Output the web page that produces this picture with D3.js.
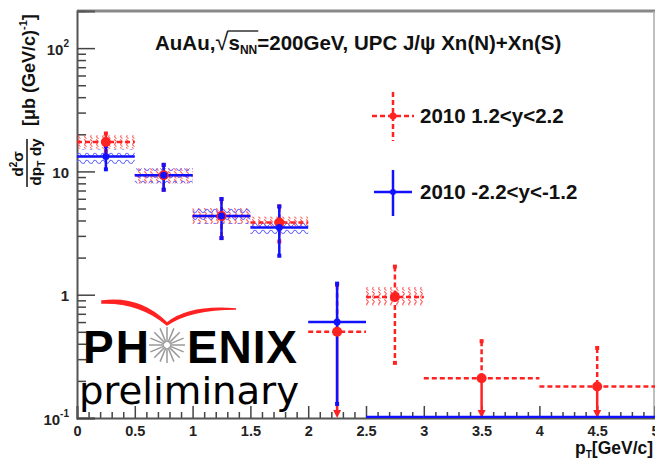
<!DOCTYPE html>
<html>
<head>
<meta charset="utf-8">
<script src="https://cdn.jsdelivr.net/npm/d3@7"></script>
<style>
  body { margin: 0; background: #fff; }
  svg { display: block; font-family: "Liberation Sans", Arial, sans-serif; }
</style>
</head>
<body>
<svg id="plot" width="655" height="462"></svg>
<script>
// pT bins (GeV/c)
const binCenter = [0.25, 0.75, 1.25, 1.75, 2.25, 2.75, 3.5, 4.5];
const binLo = [0, 0.5, 1, 1.5, 2, 2.5, 3, 4];
const binHi = [0.5, 1, 1.5, 2, 2.5, 3, 4, 5];

// 2010 1.2<y<2.2 (red)
const redY = [17.3, 9.3, 4.35, 3.85, 0.5, 0.96, 0.21, 0.18];
const redStatHi = [20.3, 11.3, 5.97, 5.2, 1.2, 1.69, 0.42, 0.37];
const redStatLo = [14.6, 7.1, 2.88, 2.7, 0, 0.28, 0, 0];
const redSysHi = [19.6, 10.6, 5.05, 4.3, null, 1.15, null, null];
const redSysLo = [15.3, 8.0, 3.75, 3.5, null, 0.82, null, null];

// 2010 -2.2<y<-1.2 (blue)
const blueY = [13.2, 9.3, 4.35, 3.5, 0.6, 0, 0, 0];
const blueStatHi = [16.0, 11.3, 5.97, 5.2, 1.23, 0, 0, 0];
const blueStatLo = [10.4, 7.1, 2.88, 2.07, 0.13, 0, 0, 0];
const blueSysHi = [15.1, 10.6, 5.05, 3.95, null, null, null, null];
const blueSysLo = [11.5, 8.0, 3.75, 3.0, null, null, null, null];

const xTicks = [0, 0.5, 1, 1.5, 2, 2.5, 3, 3.5, 4, 4.5, 5];
const yTicks = [0.1, 1, 10, 100];
const yTickLabels = [["10", "-1"], ["1", ""], ["10", ""], ["10", "2"]];

const svg = d3.select("#plot");
const margin = { top: 11, right: 0, bottom: 44, left: 77 };
const panel = { width: 655 - margin.left - margin.right, height: 462 - margin.top - margin.bottom };

const scale = {
  x: d3.scaleLinear([0, 5], [0, panel.width]),
  y: d3.scaleLog([0.1, 200], [panel.height, 0]),
};
const yy = (v) => scale.y(Math.max(v, 0.1));

// hatch patterns for systematics
const defs = svg.append("defs");
const pRed = defs.append("pattern").attr("id", "hatchRed").attr("patternUnits", "userSpaceOnUse")
  .attr("width", 6).attr("height", 8);
pRed.append("path").attr("d", "M1,0.5 Q4.5,2 2.5,4 Q0.5,6 3.5,7.5").attr("fill", "none")
  .attr("stroke", "#f55").attr("stroke-width", 1.1);
const pBlue = defs.append("pattern").attr("id", "hatchBlue").attr("patternUnits", "userSpaceOnUse")
  .attr("width", 8).attr("height", 7);
pBlue.append("path").attr("d", "M0,4 Q2,0.5 4,4 Q6,7 8,4").attr("fill", "none")
  .attr("stroke", "#66f").attr("stroke-width", 1.1);
defs.append("clipPath").attr("id", "clip").append("rect")
  .attr("width", panel.width).attr("height", panel.height);

const g = svg.append("g").attr("transform", `translate(${margin.left}, ${margin.top})`);

// frame
g.append("line").attr("x1", 0).attr("x2", panel.width).attr("y1", 0).attr("y2", 0)
  .attr("stroke", "#888").attr("stroke-width", 3);
g.append("line").attr("x1", panel.width - 1).attr("x2", panel.width - 1).attr("y1", 0).attr("y2", panel.height)
  .attr("stroke", "#aaa").attr("stroke-width", 1.5);

// axes
const minorX = d3.range(0, 5.001, 0.1).filter((v) => Math.abs(v * 2 - Math.round(v * 2)) > 1e-6);
g.append("g").attr("transform", `translate(0, ${panel.height})`)
  .call(d3.axisBottom(scale.x).tickValues(minorX).tickSize(-6).tickFormat(""))
  .call((s) => s.select(".domain").remove());
const xAxis = g.append("g").attr("transform", `translate(0, ${panel.height})`)
  .call(d3.axisBottom(scale.x).tickValues(xTicks).tickSize(-12).tickPadding(8).tickFormat(d3.format("")));
xAxis.selectAll("text").attr("font-size", 14.5).attr("font-weight", "bold").attr("fill", "#222");

const minorY = [];
[0.1, 1, 10, 100].forEach((d) => { for (let k = 2; k <= 9; k++) if (d * k <= 200) minorY.push(d * k); });
g.append("g").call(d3.axisLeft(scale.y).tickValues(minorY).tickSize(-9).tickFormat(""))
  .call((s) => s.select(".domain").remove());
const yAxis = g.append("g")
  .call(d3.axisLeft(scale.y).tickValues(yTicks).tickSize(-18).tickPadding(9).tickFormat(""));
g.selectAll(".tick line").attr("stroke", "#444").attr("stroke-width", 1.5);
g.selectAll(".domain").attr("stroke", "#555").attr("stroke-width", 2);

yAxis.selectAll(".tick").each(function (d, i) {
  const [base, exp] = yTickLabels[i];
  const t = d3.select(this).append("text").attr("x", -8).attr("dy", "0.4em")
    .attr("text-anchor", "end").attr("fill", "#222").attr("font-size", 15).attr("font-weight", "bold");
  t.append("tspan").text(base);
  if (exp) t.append("tspan").text(exp).attr("font-size", 10).attr("dy", -8);
});

// data
const idx = d3.range(binCenter.length);
const plot = g.append("g").attr("clip-path", "url(#clip)");

function sysBoxes(lo, hi, fill) {
  plot.selectAll(null).data(idx.filter((i) => hi[i] != null)).join("rect")
    .attr("x", (i) => scale.x(binLo[i])).attr("width", (i) => scale.x(binHi[i]) - scale.x(binLo[i]))
    .attr("y", (i) => scale.y(hi[i])).attr("height", (i) => scale.y(lo[i]) - scale.y(hi[i]))
    .attr("fill", fill);
}
sysBoxes(redSysLo, redSysHi, "url(#hatchRed)");
sysBoxes(blueSysLo, blueSysHi, "url(#hatchBlue)");

function errorBars(vals, hiV, loV, color, dash) {
  const s = plot.append("g").attr("stroke", color).attr("stroke-width", 2.5).attr("fill", color);
  s.selectAll(null).data(idx).join("line")
    .attr("x1", (i) => scale.x(binLo[i])).attr("x2", (i) => scale.x(binHi[i]))
    .attr("y1", (i) => yy(vals[i]) - (vals[i] > 0.1 ? 0 : 1)).attr("y2", (i) => yy(vals[i]) - (vals[i] > 0.1 ? 0 : 1))
    .attr("stroke-dasharray", dash);
  const withErr = idx.filter((i) => vals[i] > 0.1);
  s.selectAll(null).data(withErr).join("line")
    .attr("x1", (i) => scale.x(binCenter[i])).attr("x2", (i) => scale.x(binCenter[i]))
    .attr("y1", (i) => yy(hiV[i])).attr("y2", (i) => yy(vals[i]))
    .attr("stroke-dasharray", dash);
  s.selectAll(null).data(withErr).join("line")
    .attr("x1", (i) => scale.x(binCenter[i])).attr("x2", (i) => scale.x(binCenter[i]))
    .attr("y1", (i) => yy(vals[i])).attr("y2", (i) => yy(loV[i]) - (loV[i] > 0.1 ? 0 : 4))
    .attr("stroke-dasharray", (i) => (loV[i] > 0.1 ? dash : null));
  // caps
  s.selectAll(null).data(withErr.flatMap((i) => [hiV[i], loV[i]].filter((v) => v > 0.1).map((v) => [i, v]))).join("rect")
    .attr("x", ([i]) => scale.x(binCenter[i]) - 2).attr("y", ([, v]) => yy(v) - 2)
    .attr("width", 4).attr("height", 4).attr("stroke", "none");
  // arrows to the axis
  s.selectAll(null).data(withErr.filter((i) => loV[i] <= 0.1)).join("path")
    .attr("stroke", "none")
    .attr("d", (i) => { const x = scale.x(binCenter[i]), y = panel.height; return `M${x - 4},${y - 8}L${x + 4},${y - 8}L${x},${y}Z`; });
}
errorBars(redY, redStatHi, redStatLo, "#f22", "5,3");
errorBars(blueY, blueStatHi, blueStatLo, "#11f", null);

plot.selectAll(null).data(idx).join("circle")
  .attr("cx", (i) => scale.x(binCenter[i])).attr("cy", (i) => yy(redY[i])).attr("r", 5).attr("fill", "#f22");
plot.selectAll(null).data(idx.filter((i) => blueY[i] > 0.1)).join("circle")
  .attr("cx", (i) => scale.x(binCenter[i])).attr("cy", (i) => yy(blueY[i])).attr("r", 3.5).attr("fill", "#11f");

// title
const title = svg.append("text").attr("x", 155).attr("y", 50).attr("font-size", 20.5).attr("font-weight", "bold").attr("fill", "#111");
title.append("tspan").text("AuAu,");
title.append("tspan").text("\u221A").attr("font-weight", "normal").attr("font-size", 24);
title.append("tspan").text("s");
title.append("tspan").text("NN").attr("font-size", 12).attr("dy", 4);
title.append("tspan").text("=200GeV, UPC J/\u03C8 Xn(N)+Xn(S)").attr("dy", -4);
{
  const node = title.node();
  const x0 = node.getStartPositionOfChar(6).x;
  const x1 = node.getEndPositionOfChar(8).x;
  svg.append("line").attr("x1", x0 - 1).attr("x2", x1 + 1).attr("y1", 31).attr("y2", 31)
    .attr("stroke", "#111").attr("stroke-width", 1.3);
}

// legend
const legend = [
  { label: "2010 1.2<y<2.2", color: "#f22", dash: "5,3", y: 116, up: 24, down: 25, half: 21, r: 3.5 },
  { label: "2010 -2.2<y<-1.2", color: "#11f", dash: null, y: 192, up: 22, down: 24, half: 19, r: 3 },
];
legend.forEach((l) => {
  const cx = 393;
  const lg = svg.append("g").attr("stroke", l.color).attr("stroke-width", 2.5);
  lg.append("line").attr("x1", cx - l.half).attr("x2", cx + l.half).attr("y1", l.y).attr("y2", l.y).attr("stroke-dasharray", l.dash);
  lg.append("line").attr("x1", cx).attr("x2", cx).attr("y1", l.y - l.up).attr("y2", l.y + l.down).attr("stroke-dasharray", l.dash);
  lg.append("circle").attr("cx", cx).attr("cy", l.y).attr("r", l.r).attr("fill", l.color).attr("stroke", "none");
  svg.append("text").attr("x", 420).attr("y", l.y + 7).attr("font-size", 20.5).attr("font-weight", "bold")
    .attr("fill", "#111").text(l.label);
});

// y axis title
const yt = svg.append("g").attr("transform", "translate(27, 0) rotate(-90)")
  .attr("font-weight", "bold").attr("fill", "#111").attr("font-size", 15.5);
const num = yt.append("text").attr("x", -164).attr("y", -4).attr("text-anchor", "middle");
num.append("tspan").text("d");
num.append("tspan").text("2").attr("font-size", 10).attr("dy", -6);
num.append("tspan").text("\u03C3").attr("dy", 6);
yt.append("line").attr("x1", -187).attr("x2", -139).attr("y1", 0).attr("y2", 0).attr("stroke", "#111").attr("stroke-width", 1.5);
const den = yt.append("text").attr("x", -162).attr("y", 14).attr("text-anchor", "middle");
den.append("tspan").text("dp");
den.append("tspan").text("T").attr("font-size", 10).attr("dy", 4);
den.append("tspan").text(" dy").attr("dy", -4);
const unit = yt.append("text").attr("x", -126).attr("y", 8).attr("font-size", 18);
unit.append("tspan").text("[\u03BCb (GeV/c)");
unit.append("tspan").text("-1").attr("font-size", 11).attr("dy", -8);
unit.append("tspan").text("]").attr("dy", 8);

// x axis title
const xt = svg.append("text").attr("x", 575).attr("y", 454).attr("font-size", 17.5).attr("font-weight", "bold").attr("fill", "#111");
xt.append("tspan").text("p");
xt.append("tspan").text("T").attr("font-size", 10).attr("dy", 4);
xt.append("tspan").text("[GeV/c]").attr("dy", -4);

// PHENIX preliminary logo
const logo = svg.append("g");
logo.append("path").attr("d", "M102,301 Q140,296 167,323 Q190,305 236,309 Q190,309 167,325 Q140,302 102,303Z")
  .attr("fill", "#f22").attr("stroke", "#f22").attr("stroke-width", 1.5);
logo.append("text").attr("x", 83).attr("y", 363).attr("font-size", 46).attr("font-weight", "bold")
  .attr("fill", "#000").attr("textLength", 66).text("PH");
logo.append("text").attr("x", 187).attr("y", 363).attr("font-size", 46).attr("font-weight", "bold")
  .attr("fill", "#000").attr("textLength", 110).text("ENIX");
const star = logo.append("g").attr("stroke", "#999").attr("stroke-width", 1.5);
d3.range(16).forEach((k) => {
  const a = (k / 16) * 2 * Math.PI;
  star.append("line").attr("x1", 167 + 3 * Math.cos(a)).attr("y1", 345 + 3 * Math.sin(a))
    .attr("x2", 167 + 18 * Math.cos(a)).attr("y2", 345 + 18 * Math.sin(a));
});
logo.append("text").attr("x", 79).attr("y", 404).attr("font-size", 38).attr("font-family", "DejaVu Sans")
  .attr("fill", "#000").attr("textLength", 220).attr("lengthAdjust", "spacingAndGlyphs").text("preliminary");
</script>
</body>
</html>
